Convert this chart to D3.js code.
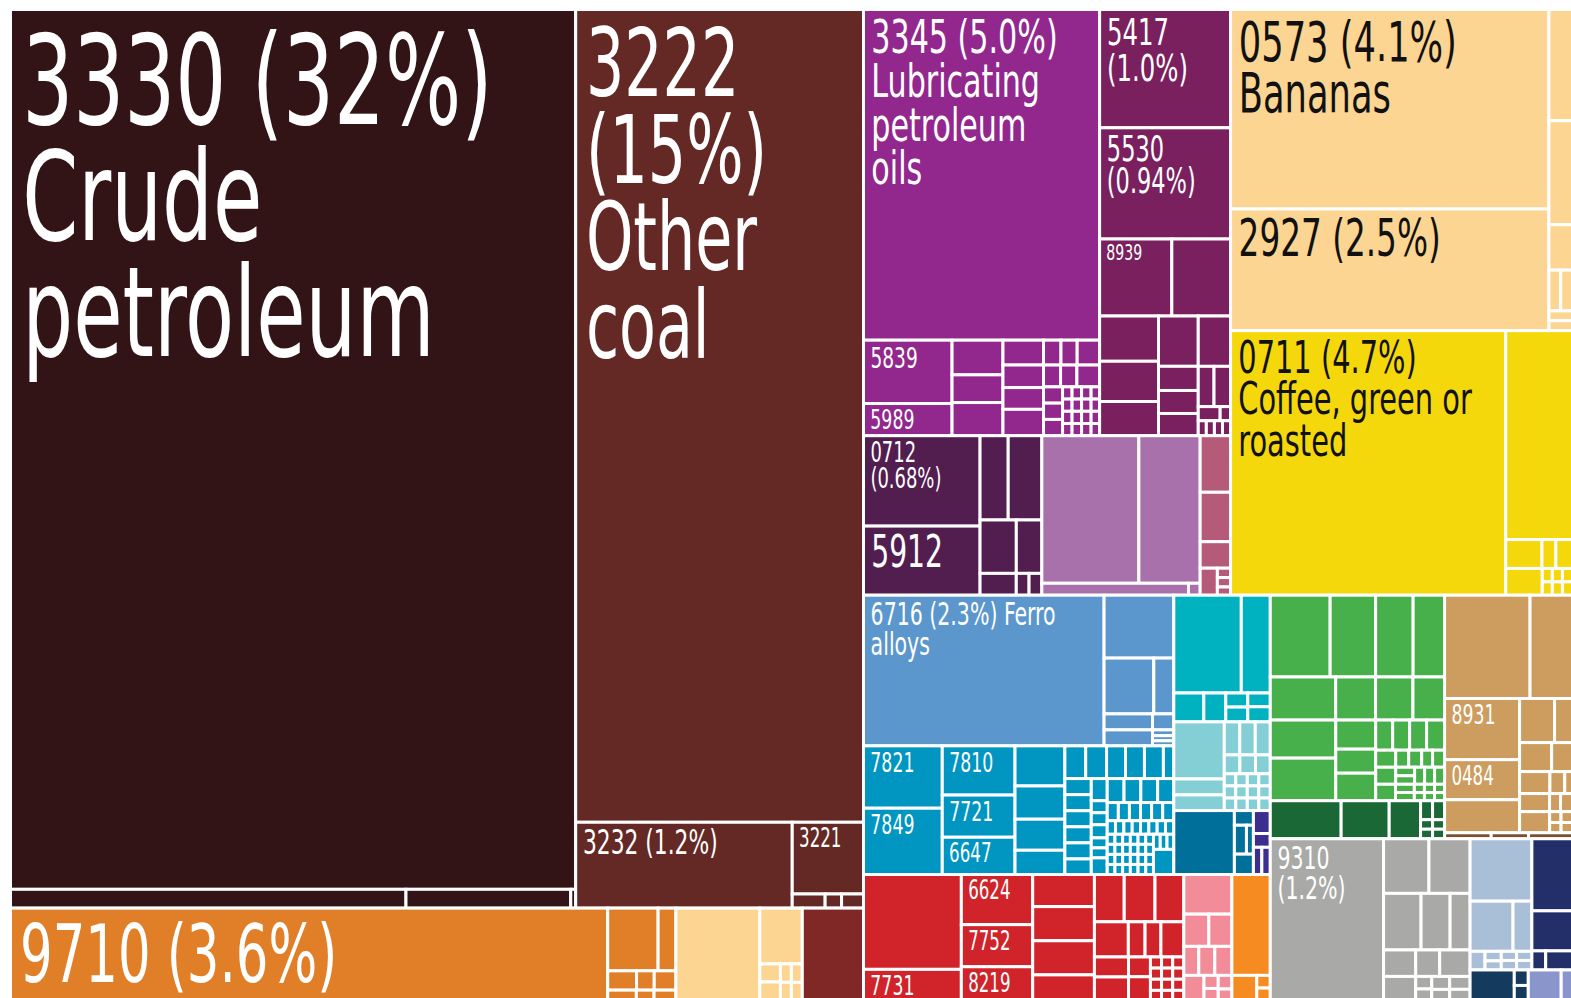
<!DOCTYPE html>
<html>
<head>
<meta charset="utf-8">
<script src="https://cdn.jsdelivr.net/npm/d3@7"></script>
<style>
body { margin: 0; background: #fff; overflow: hidden; }
svg { display: block; }
text { font-family: "Liberation Sans Narrow", "Arial Narrow", "DejaVu Sans Condensed", sans-serif; }
</style>
</head>
<body>
<svg id="chart" width="1571" height="998"></svg>
<script>
// export shares in % of total. 'h' = side by side, 'v' = stacked, [code, share] = named product
const crude = ['v', ['3330', 32.1], ['h', 0.48, 0.2, 0.006]];
const coal = ['v', ['3222', 15.1], ['h', ['3232', 1.2], ['v', ['3221', 0.33], ['h', 0.03, 0.015, 0.02]]]];
const gold = ['h', ['9710', 3.6], ['v', ['h', 0.204, 0.072], ['h', 0.036, 0.022, 0.027], ['h', 0.021, 0.013, 0.016]]];
const peachLow = ['h', 0.506, ['v', 0.153, ['h', ['v', 0.024, 0.026], ['v', 0.013, 0.0135], ['v', 0.013, 0.0135]]]];
const darkRed = 0.369;

const chem = ['v', ['3345', 5.04], ['h',
  ['v', ['5839', 0.362], ['5989', 0.184]],
  ['v', 0.114, 0.091, 0.109],
  ['v', 0.065, 0.059, 0.057, 0.069],
  ['v', ['h', 0.028, 0.026, 0.036], ['h', 0.024, 0.023, 0.032],
    ['h', ['v', 0.02, 0.02, 0.02], ['v', 0.0075, 0.0075, 0.0075, 0.0075], ['v', 0.0075, 0.0075, 0.0075, 0.0075],
      ['v', 0.0075, 0.0075, 0.0075, 0.0075], ['v', 0.0067, 0.0067, 0.0067, 0.0067]]]]];
const darkMagenta = ['v', ['5417', 1.0], ['5530', 0.94], ['h', ['8939', 0.359], 0.292], ['h',
  ['v', 0.172, 0.153, 0.13],
  ['v', 0.129, 0.062, 0.059, 0.057],
  ['v', 0.105, ['h', 0.041, 0.043], ['h', 0.02, 0.0095], ['h', 0.0078, 0.0078, 0.0078, 0.0078]]]];
const darkPurple = ['h', ['v', ['0712', 0.68], ['5912', 0.52]], ['v', ['h', 0.153, 0.183], ['h', 0.125, 0.088], ['h', 0.051, 0.018, 0.018]]];
const lightPurple = ['v', ['h', 0.924, 0.584], ['h', 0.113, 0.009]];
const rose = ['v', 0.111, 0.097, 0.052, ['h', 0.03, ['v', 0.008, 0.008, 0.007]]];
const peach = ['h', ['v', ['0573', 4.1], ['2927', 2.5]], ['v', 0.169, 0.158, 0.069, ['h', 0.031, 0.031], ['v', 0.015, 0.015]]];
const yellow = ['h', ['0711', 4.7], ['v', 0.9, ['h', 0.0675, 0.026, 0.031],
  ['h', 0.063, ['v', 0.0087, 0.0087], ['v', 0.0087, 0.0087], ['v', 0.0087, 0.0087]]]];

const steelBlue = ['h', ['6716', 2.34], ['v', 0.283, ['h', 0.179, 0.072], ['h', 0.05, 0.022], ['h', 0.05, ['v', 0.008, 0.007, 0.007]]]];
const cyan = ['h',
  ['v', ['7821', 0.317], ['7849', 0.337]],
  ['v', ['7810', 0.231], ['7721', 0.198], ['6647', 0.175]],
  ['v', 0.129, 0.107, 0.1, 0.078],
  ['v', ['h', 0.044, 0.044, 0.04, 0.04, 0.04, 0.022],
    ['h', ['v', 0.0274, 0.0274, 0.0274, 0.0274, 0.0274, 0.0265],
      ['v', 0.0228, 0.0124, 0.0124, 0.0135, 0.0103, 0.0103, 0.0171],
      ['v', ['h', 0.026, 0.026, 0.026, 0.025],
        ['h', 0.013, 0.013, 0.013, 0.013, 0.013, 0.013],
        ['h', 0.0073, 0.0073, 0.0073, 0.0073, 0.0073, 0.0073, 0.0073, 0.0073],
        ['h', ['v', ['h', 0.005, 0.005, 0.005, 0.005, 0.005, 0.005], ['h', 0.005, 0.005, 0.005, 0.005, 0.005, 0.005],
                    ['h', 0.005, 0.005, 0.005, 0.005, 0.005, 0.005], ['h', 0.005, 0.005, 0.005, 0.005, 0.005, 0.005]],
              ['v', ['h', 0.0066, 0.0066, 0.0066], 0.033]]]]]];
const teal = ['v', ['h', 0.426, 0.183], ['h', 0.056, 0.041, ['v', 0.02, 0.021], ['v', 0.02, 0.022]]];
const lightTeal = ['h', ['v', 0.186, 0.052, 0.051], ['v', ['h', 0.033, 0.033, 0.032], ['h', 0.019, 0.019, 0.018],
  ['h', 0.009, 0.009, 0.009, 0.009], ['h', 0.009, 0.009, 0.009, 0.009], ['h', 0.0093, 0.0093, 0.0093, 0.0093]]];
const darkTeal = ['h', 0.25, ['v', 0.018, ['h', 0.0225, 0.013], 0.025]];
const indigo = ['v', 0.025, 0.015, ['h', 0.0148, 0.0148]];
const red = ['h',
  ['v', 0.599, ['7731', 0.203]],
  ['v', ['6624', 0.231], ['7752', 0.194], ['8219', 0.16]],
  ['v', 0.128, 0.136, 0.136, 0.106],
  ['v', ['h', 0.091, 0.094, 0.088], ['h', 0.077, 0.038, 0.036, 0.052],
    ['h', ['v', 0.044, 0.054], ['v', 0.028, 0.035],
      ['v', ['h', 0.008, 0.008, 0.008], ['h', 0.008, 0.008, 0.008], ['h', 0.008, 0.008, 0.008], ['h', 0.008, 0.008, 0.008]]]]];
const pink = ['v', 0.123, ['h', 0.052, 0.048], ['h', 0.028, 0.03, 0.032], ['h', 0.034, ['v', 0.012, 0.012], ['v', 0.012, 0.011]]];
const orange = ['v', 0.25, ['h', 0.042, ['v', 0.011, 0.0117]]];

const green = ['v',
  ['h', 0.316, 0.24, 0.198, 0.166],
  ['h', 0.182, 0.111, 0.104, 0.088],
  ['h', ['v', 0.161, 0.18], ['v', 0.075, 0.062, 0.071],
    ['v', ['h', 0.033, 0.033, 0.033, 0.035],
      ['h', 0.022, 0.0143, 0.0143, 0.012, 0.0132],
      ['h', 0.022, ['v', 0.0104, 0.0104], 0.011, 0.011, 0.011],
      ['h', 0.021, ['v', 0.01, 0.01], ['v', 0.0054, 0.0053], ['v', 0.0054, 0.0053], ['v', 0.0054, 0.0053]]]]];
const darkGreen = ['h', 0.174, 0.118, 0.077, ['v', ['h', 0.0147, 0.0147], ['h', 0.0074, 0.0074], ['h', 0.0074, 0.0074]]];
const tan = ['v', ['h', 0.57, 0.283], ['h',
  ['v', ['8931', 0.296], ['0484', 0.194], 0.16],
  ['v', ['h', 0.0996, 0.051], ['h', 0.06, 0.039], ['h', 0.043, 0.021, 0.011], ['h', 0.035, 0.0128, 0.014],
    ['h', 0.041, ['v', 0.008, 0.0076], ['v', 0.008, 0.0076]]]]];
const brown = ['h', 0.018, 0.0144, 0.017];
const grey = ['h', ['9310', 1.19], ['v', ['h', 0.16, 0.145], ['h', 0.137, 0.106, 0.073], ['h', 0.055, 0.041, 0.052],
  ['h', 0.052, ['v', 0.013, 0.013], ['v', 0.015, 0.014], ['v', 0.017, 0.016]]]];
const lightBlue = ['v', 0.249, ['h', 0.139, 0.061], ['h', 0.018, ['v', 0.01, 0.0095], ['v', 0.009, 0.0094], ['v', 0.009, 0.0094]]];
const navy = ['v', 0.189, 0.105, ['h', 0.017, 0.033]];
const deepBlue = ['h', 0.09, ['v', 0.014, 0.0145]];
const lavender = ['h', 0.067, 0.023];

// product names shown in the boxes ({c} = code, {p} = share)
const labelLines = {
  '3330': ['{c} ({p})', 'Crude', 'petroleum'],
  '3222': ['{c}', '({p})', 'Other', 'coal'],
  '3345': ['{c} ({p})', 'Lubricating', 'petroleum', 'oils'],
  '5417': ['{c}', '({p})'],
  '5530': ['{c}', '({p})'],
  '0573': ['{c} ({p})', 'Bananas'],
  '2927': ['{c} ({p})'],
  '0711': ['{c} ({p})', 'Coffee, green or', 'roasted'],
  '0712': ['{c}', '({p})'],
  '6716': ['{c} ({p}) Ferro', 'alloys'],
  '9710': ['{c} ({p})'],
  '3232': ['{c} ({p})'],
  '9310': ['{c}', '({p})']
};

const blocks = { crude, coal, gold, peachLow, darkRed, chem, darkMagenta, darkPurple, lightPurple, rose, peach, yellow,
  steelBlue, cyan, teal, lightTeal, darkTeal, indigo, red, pink, orange, green, darkGreen, tan, brown, grey,
  lightBlue, navy, deepBlue, lavender };

const blockColor = {
  crude: '#321416', coal: '#652925', gold: '#e07f27', peachLow: '#fdd592', darkRed: '#802826',
  chem: '#92278d', darkMagenta: '#7b205e', darkPurple: '#521d4f', lightPurple: '#a971ac', rose: '#b55a78',
  peach: '#fdd592', yellow: '#f5d80c', steelBlue: '#5b96cc', cyan: '#0096c1', teal: '#00b2bf',
  lightTeal: '#84ced5', darkTeal: '#00709a', indigo: '#3b2e8e', red: '#d0232a', pink: '#f28c98',
  orange: '#f58b21', green: '#47b04a', darkGreen: '#1b6837', tan: '#cd9d5f', brown: '#7a4f31',
  grey: '#a9aaa7', lightBlue: '#a8bfd7', navy: '#232f68', deepBlue: '#143a5d', lavender: '#8a96cb'
};
const darkText = new Set(['peach', 'yellow', 'peachLow']);

const labelSize = {
  '3330': 125, '3222': 94, '3345': 47, '5417': 38, '5530': 35, '0573': 55, '2927': 51, '0711': 45,
  '0712': 28, '6716': 32, '9710': 80, '3232': 34, '9310': 32, '3221': 26, '8939': 22, '5839': 29,
  '5989': 27, '5912': 44, '7821': 27, '7849': 27, '7810': 27, '7721': 27, '6647': 26, '6624': 26,
  '7752': 26, '8219': 26, '7731': 27, '8931': 27, '0484': 26
};

// how the blocks sit next to each other
const layout = ['h',
  ['v', ['h', 'crude', 'coal'], ['h', 'gold', 'peachLow', 'darkRed']],
  ['v',
    ['h', ['v', ['h', 'chem', 'darkMagenta'], ['h', 'darkPurple', 'lightPurple', 'rose']], ['v', 'peach', 'yellow']],
    ['h',
      ['v', ['h', ['v', 'steelBlue', 'cyan'], ['v', 'teal', 'lightTeal', ['h', 'darkTeal', 'indigo']]], ['h', 'red', 'pink', 'orange']],
      ['v', ['h', ['v', 'green', 'darkGreen'], ['v', 'tan', 'brown']],
        ['h', 'grey', ['v', ['h', 'lightBlue', 'navy'], ['h', 'deepBlue', 'lavender']]]]]]];

function build(n, block) {
  if (typeof n === 'string') return build(blocks[n], n);
  if (typeof n === 'number') return { value: n, block };
  if (n[0] === 'h' || n[0] === 'v') return { dir: n[0], block, children: n.slice(1).map(c => build(c, block)) };
  return { code: n[0], value: n[1], block };
}

const W = 1562, H = 992;
const svg = d3.select('#chart');

const root = d3.hierarchy(build(layout, null)).sum(d => d.children ? 0 : d.value);
d3.treemap()
  .size([W, H])
  .tile((node, x0, y0, x1, y1) => (node.data.dir === 'h' ? d3.treemapDice : d3.treemapSlice)(node, x0, y0, x1, y1))(root);

const g = svg.append('g').attr('transform', 'translate(10.5,9.5)');

g.selectAll('rect')
  .data(root.leaves())
  .join('rect')
  .attr('x', d => d.x0)
  .attr('y', d => d.y0)
  .attr('width', d => d.x1 - d.x0)
  .attr('height', d => d.y1 - d.y0)
  .attr('fill', d => blockColor[d.data.block])
  .attr('stroke', '#fff')
  .attr('stroke-width', 3);

// squeeze the font so digits get as narrow as the original condensed face
const probe = svg.append('text').attr('font-size', 100).text('0000');
const adv = probe.node().getComputedTextLength() / 400;
probe.remove();
const sx = 0.408 / adv;

const fmt = d3.format('.2r');
const labels = g.selectAll('g.label')
  .data(root.leaves().filter(d => d.data.code))
  .join('g')
  .attr('class', 'label')
  .attr('transform', d => {
    const f = labelSize[d.data.code];
    return `translate(${d.x0 + 5.5 + 0.05 * f},${d.y0 + 1.5 + 0.9 * f}) scale(${sx},1)`;
  });

labels.each(function(d) {
  const f = labelSize[d.data.code];
  const lines = (labelLines[d.data.code] || ['{c}'])
    .map(s => s.replace('{c}', d.data.code).replace('{p}', fmt(d.data.value) + '%'));
  d3.select(this).append('text')
    .attr('font-size', f)
    .attr('fill', darkText.has(d.data.block) ? '#111' : '#fff')
    .selectAll('tspan')
    .data(lines)
    .join('tspan')
    .attr('x', 0)
    .attr('y', (s, i) => i * 0.93 * f)
    .text(s => s);
});
</script>
</body>
</html>
